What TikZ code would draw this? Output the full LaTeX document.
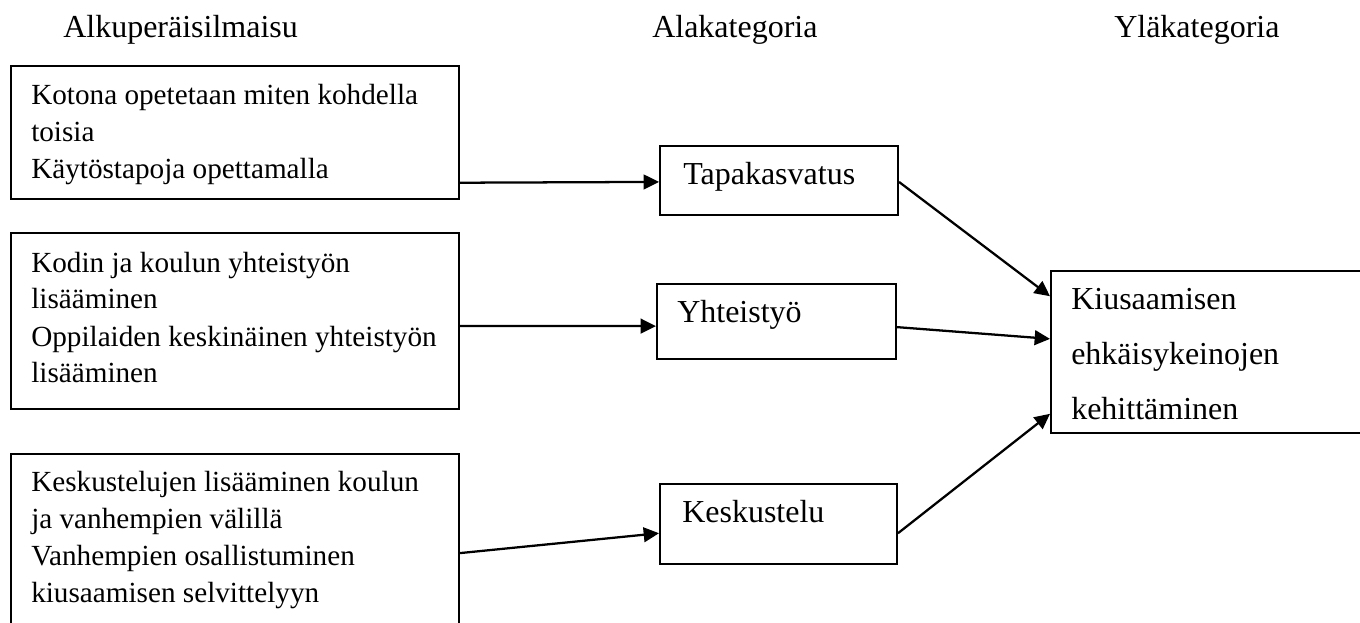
\documentclass[tikz,border=0pt]{standalone}
\usepackage{fontspec}
\setmainfont{Liberation Serif}
\usetikzlibrary{calc,arrows.meta}
\begin{document}
\begin{tikzpicture}[x=0.75pt,y=-0.75pt,
  box/.style={draw,line width=1.5pt,rectangle,inner sep=0pt,anchor=north west},
  txt/.style={inner sep=0pt,anchor=base west,align=left,font=\fontsize{21.9}{27.75}\selectfont},
  big/.style={inner sep=0pt,anchor=base west,align=left,font=\fontsize{24}{41.25}\selectfont},
  conn/.style={line width=1.7pt,-{Triangle[length=11.5pt,width=11pt]}}]
\useasboundingbox (0,0) rectangle (1360,623);
% headers
\node[big] (h1) at (63,38) {Alkuperäisilmaisu};
\node[big] (h2) at (652,38) {Alakategoria};
\node[big] (h3) at (1114,38) {Yläkategoria};
% left boxes
\node[box,minimum width=448*0.75pt,minimum height=133*0.75pt] (b1) at (10,65) {};
\node[box,minimum width=448*0.75pt,minimum height=176*0.75pt] (b2) at (10,232) {};
\node[box,minimum width=448*0.75pt,minimum height=180*0.75pt] (b3) at (10,453) {};
\node[txt] (t1) at (31,179) {Kotona opetetaan miten kohdella\\toisia\\Käytöstapoja opettamalla};
\node[txt] (t2) at (31,383) {Kodin ja koulun yhteistyön\\lisääminen\\Oppilaiden keskinäinen yhteistyön\\lisääminen};
\node[txt] (t3) at (31,602) {Keskustelujen lisääminen koulun\\ja vanhempien välillä\\Vanhempien osallistuminen\\kiusaamisen selvittelyyn};
% middle boxes
\node[box,minimum width=238*0.75pt,minimum height=69*0.75pt] (m1) at (659,145) {};
\node[box,minimum width=239*0.75pt,minimum height=75*0.75pt] (m2) at (656,283) {};
\node[box,minimum width=237*0.75pt,minimum height=80*0.75pt] (m3) at (659,483) {};
\node[big] (tm1) at (683,185) {Tapakasvatus};
\node[big] (tm2) at (677,323) {Yhteistyö};
\node[big] (tm3) at (682,522) {Keskustelu};
% right box
\node[box,minimum width=330*0.75pt,minimum height=162*0.75pt] (r) at (1050,270) {};
\node[big] (tr) at (1071,420) {Kiusaamisen\\ehkäisykeinojen\\kehittäminen};
% connectors
\draw[conn] ($(b1.north east)!0.872!(b1.south east)$) -- ($(m1.north west)!0.52!(m1.south west)$);
\draw[conn] ($(b2.north east)!0.528!(b2.south east)$) -- ($(m2.north west)!0.56!(m2.south west)$);
\draw[conn] ($(b3.north east)!0.55!(b3.south east)$) -- ($(m3.north west)!0.6125!(m3.south west)$);
\draw[conn] ($(m1.north east)!0.52!(m1.south east)$) -- ($(r.north west)!0.16!(r.south west)$);
\draw[conn] ($(m2.north east)!0.573!(m2.south east)$) -- ($(r.north west)!0.42!(r.south west)$);
\draw[conn] ($(m3.north east)!0.6125!(m3.south east)$) -- ($(r.north west)!0.877!(r.south west)$);
\end{tikzpicture}
\end{document}
